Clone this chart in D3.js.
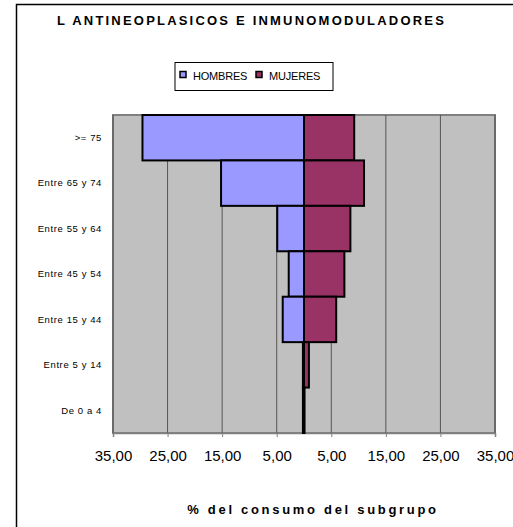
<!DOCTYPE html>
<html><head><meta charset="utf-8">
<script src="https://cdn.jsdelivr.net/npm/d3@7"></script>
<style>body{margin:0;background:#fff}svg{display:block}text{font-family:Arial,"Liberation Sans",sans-serif}</style>
</head><body>
<script>
const categories = [">= 75","Entre 65 y 74","Entre 55 y 64","Entre 45 y 54","Entre 15 y 44","Entre 5 y 14","De 0 a 4"];
const hombres = [29.6, 15.2, 4.9, 2.8, 3.9, 0.2, 0.2];
const mujeres = [9.2, 11.0, 8.5, 7.4, 5.9, 0.9, 0.1];
const tickValues = [-35,-25,-15,-5,5,15,25,35];
const tickLabels = ["35,00","25,00","15,00","5,00","5,00","15,00","25,00","35,00"];
const seriesNames = ["HOMBRES","MUJERES"];
const colors = ["#9999FF","#993366"];

const W=513,H=527;
const svg=d3.select("body").append("svg").attr("width",W).attr("height",H);
// outer frame
svg.append("rect").attr("x",16.5).attr("y",4.5).attr("width",600).attr("height",600)
  .attr("fill","none").attr("stroke","#000").attr("stroke-width",1.5);

const L=113,R=495,T=115,B=433;
const x=d3.scaleLinear().domain([-35,35]).range([L,R]);
const y=d3.scaleBand().domain(categories).range([T,B]).padding(0);

svg.append("rect").attr("x",L).attr("y",T).attr("width",R-L).attr("height",B-T)
  .attr("fill","#C0C0C0").attr("stroke","#808080").attr("stroke-width",2);

// gridlines
svg.append("g").selectAll("line").data(tickValues).join("line")
  .attr("x1",d=>x(d)).attr("x2",d=>x(d)).attr("y1",T).attr("y2",B)
  .attr("stroke","#555").attr("stroke-width",1);

// axis
const ax=svg.append("g").attr("transform",`translate(0,${B})`)
  .call(d3.axisBottom(x).tickValues(tickValues).tickFormat((d,i)=>tickLabels[i]).tickSize(4).tickPadding(13));
ax.select(".domain").attr("stroke","#808080").attr("stroke-width",1.5);
ax.selectAll(".tick line").attr("stroke","#808080");
ax.selectAll(".tick text").attr("font-size",15).attr("fill","#000").attr("font-family","Arial,'Liberation Sans',sans-serif");

// bars
const g=svg.append("g");
g.selectAll(".h").data(categories).join("rect")
  .attr("x",(d,i)=>x(-hombres[i])).attr("y",d=>y(d))
  .attr("width",(d,i)=>x(0)-x(-hombres[i])).attr("height",y.bandwidth())
  .attr("fill",colors[0]).attr("stroke","#000").attr("stroke-width",2);
g.selectAll(".m").data(categories).join("rect")
  .attr("x",x(0)).attr("y",d=>y(d))
  .attr("width",(d,i)=>x(mujeres[i])-x(0)).attr("height",y.bandwidth())
  .attr("fill",colors[1]).attr("stroke","#000").attr("stroke-width",2);

// category labels
svg.append("g").selectAll("text").data(categories).join("text")
  .attr("x",102).attr("y",d=>y(d)+y.bandwidth()/2).attr("dy","0.35em")
  .attr("text-anchor","end").attr("font-size",9.5).attr("letter-spacing",0.6)
  .attr("fill","#000").text(d=>d);

// title
svg.append("text").attr("x",57).attr("y",25).attr("font-size",13).attr("font-weight","bold")
  .attr("letter-spacing",2.2).text("L ANTINEOPLASICOS E INMUNOMODULADORES");

// legend
const lg=svg.append("g");
lg.append("rect").attr("x",175).attr("y",62.5).attr("width",158).attr("height",28)
  .attr("fill","#fff").attr("stroke","#000").attr("stroke-width",1);
const lx=[180,256];
seriesNames.forEach((n,i)=>{
  lg.append("rect").attr("x",lx[i]).attr("y",71.5).attr("width",6).attr("height",6)
    .attr("fill",colors[i]).attr("stroke","#000").attr("stroke-width",1.5);
  lg.append("text").attr("x",lx[i]+13).attr("y",80).attr("font-size",11)
    .attr("letter-spacing",-0.2).text(n);
});

// axis title
svg.append("text").attr("x",313).attr("y",514).attr("text-anchor","middle")
  .attr("font-size",13).attr("font-weight","bold").attr("letter-spacing",2.7)
  .text("% del consumo del subgrupo");
</script>
</body></html>
